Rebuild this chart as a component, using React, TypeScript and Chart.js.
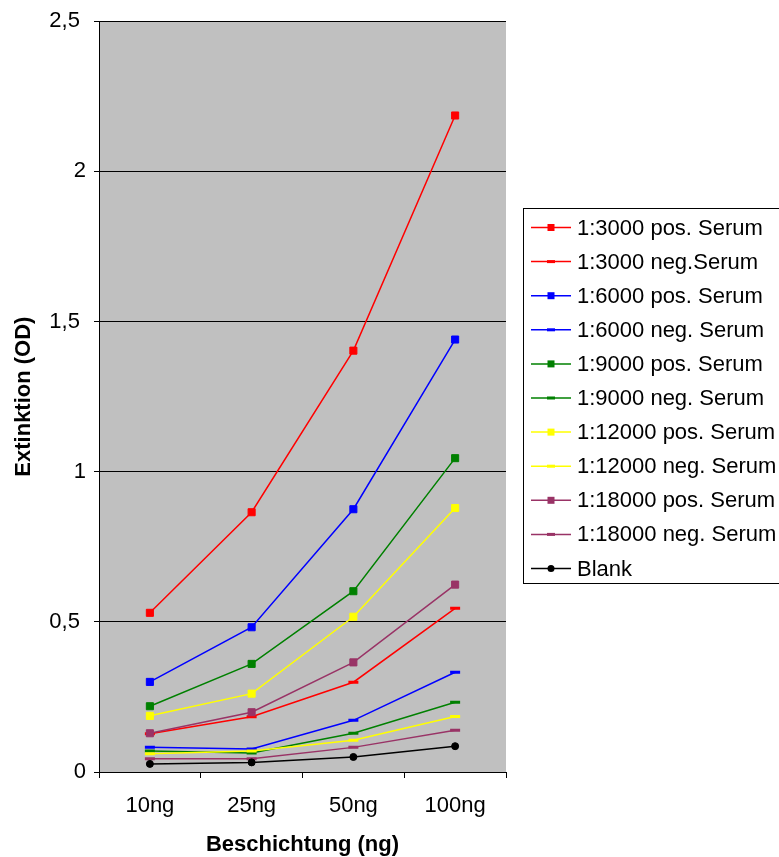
import { useEffect, useRef } from 'react';
import { Chart, registerables } from 'chart.js';

Chart.register(...registerables);

// Coating amounts on the x axis
const categories = ['10ng', '25ng', '50ng', '100ng'];
// Optical density ticks
const yTicks = [0, 0.5, 1, 1.5, 2, 2.5];

// Extinction per serum dilution
const pos3000 = [0.53, 0.865, 1.403, 2.186];
const neg3000 = [0.127, 0.184, 0.299, 0.545];
const pos6000 = [0.3, 0.482, 0.875, 1.44];
const neg6000 = [0.082, 0.077, 0.172, 0.332];
const pos9000 = [0.219, 0.36, 0.602, 1.045];
const neg9000 = [0.07, 0.063, 0.129, 0.232];
const pos12000 = [0.187, 0.261, 0.517, 0.879];
const neg12000 = [0.061, 0.07, 0.106, 0.185];
const pos18000 = [0.129, 0.199, 0.365, 0.624];
const neg18000 = [0.044, 0.044, 0.082, 0.139];
const blank = [0.027, 0.032, 0.05, 0.086];

const seriesLabels = [
  '1:3000 pos. Serum',
  '1:3000 neg.Serum',
  '1:6000 pos. Serum',
  '1:6000 neg. Serum',
  '1:9000 pos. Serum',
  '1:9000 neg. Serum',
  '1:12000 pos. Serum',
  '1:12000 neg. Serum',
  '1:18000 pos. Serum',
  '1:18000 neg. Serum',
  'Blank',
];
const seriesValues = [
  pos3000, neg3000, pos6000, neg6000, pos9000, neg9000,
  pos12000, neg12000, pos18000, neg18000, blank,
];
const seriesColors = [
  '#FF0000', '#FF0000', '#0000FF', '#0000FF', '#008000', '#008000',
  '#FFFF00', '#FFFF00', '#993366', '#993366', '#000000',
];
const seriesMarkers = [
  'rect', 'line', 'rect', 'line', 'rect', 'line',
  'rect', 'line', 'rect', 'line', 'circle',
];

const FONT = '"Liberation Sans", Arial, sans-serif';

// Gray plot area behind the series
const plotBackground = {
  id: 'plotBackground',
  beforeDraw(chart: any) {
    const { ctx, chartArea } = chart;
    ctx.save();
    ctx.fillStyle = '#C0C0C0';
    ctx.fillRect(chartArea.left, chartArea.top, chartArea.right - chartArea.left, chartArea.bottom - chartArea.top);
    ctx.restore();
  },
};

function drawMarker(ctx: CanvasRenderingContext2D, style: string, x: number, y: number, color: string) {
  ctx.fillStyle = color;
  ctx.strokeStyle = color;
  if (style === 'rect') {
    ctx.fillRect(x - 3.5, y - 3.5, 7, 7);
  } else if (style === 'line') {
    ctx.fillRect(x - 4, y - 1.5, 8, 3);
  } else {
    ctx.beginPath();
    ctx.arc(x, y, 3.5, 0, Math.PI * 2);
    ctx.fill();
  }
}

// Boxed legend on the right with line + marker samples
const boxLegend = {
  id: 'boxLegend',
  afterDraw(chart: any) {
    const { ctx } = chart;
    const datasets = chart.data.datasets;
    const boxLeft = 523.5;
    const boxTop = 208.5;
    const rowGap = 34.1;
    const firstRow = 227.5;
    const boxBottom = firstRow + rowGap * (datasets.length - 1) + 14;
    ctx.save();
    ctx.strokeStyle = '#000000';
    ctx.lineWidth = 1;
    ctx.strokeRect(boxLeft, boxTop, chart.width + 10 - boxLeft, Math.round(boxBottom) + 0.5 - boxTop);
    ctx.font = `22px ${FONT}`;
    ctx.textBaseline = 'middle';
    ctx.textAlign = 'left';
    datasets.forEach((ds: any, i: number) => {
      const y = firstRow + i * rowGap;
      ctx.strokeStyle = ds.borderColor;
      ctx.lineWidth = 1.5;
      ctx.beginPath();
      ctx.moveTo(531, y);
      ctx.lineTo(571, y);
      ctx.stroke();
      drawMarker(ctx, ds.pointStyle, 551, y, ds.borderColor);
      ctx.fillStyle = '#000000';
      ctx.fillText(ds.label, 577, y + 1);
    });
    ctx.restore();
  },
};

export default function App() {
  const canvasRef = useRef<HTMLCanvasElement | null>(null);

  useEffect(() => {
    const canvas = canvasRef.current;
    if (!canvas) return;
    const n = seriesLabels.length;
    const chart = new Chart(canvas, {
      type: 'line',
      data: {
        labels: categories,
        datasets: seriesLabels.map((label, i) => {
          const marker = seriesMarkers[i];
          return {
            label,
            data: seriesValues[i],
            borderColor: seriesColors[i],
            backgroundColor: seriesColors[i],
            borderWidth: 1.5,
            pointStyle: marker,
            pointRadius: marker === 'circle' ? 3.5 : 5,
            pointBorderWidth: marker === 'line' ? 3 : 1,
            pointBorderColor: seriesColors[i],
            pointBackgroundColor: seriesColors[i],
            tension: 0,
            fill: false,
            order: n - i,
          };
        }),
      },
      options: {
        responsive: false,
        animation: false,
        events: [],
        layout: { padding: { top: 17, right: 273, left: 0, bottom: 0 } },
        plugins: {
          legend: { display: false },
          tooltip: { enabled: false },
          title: { display: false },
        },
        scales: {
          x: {
            type: 'category',
            offset: true,
            afterFit(scale: any) {
              scale.height = 85;
            },
            grid: {
              offset: true,
              drawOnChartArea: false,
              drawTicks: true,
              tickLength: 6,
              color: '#000000',
            },
            border: { display: true, color: '#000000', width: 1 },
            ticks: {
              color: '#000000',
              font: { family: FONT, size: 22 },
              padding: 15,
              maxRotation: 0,
            },
            title: {
              display: true,
              text: 'Beschichtung (ng)',
              color: '#000000',
              font: { family: FONT, size: 22, weight: 'bold' },
              padding: { top: 0, bottom: -1.5 },
            },
          },
          y: {
            type: 'linear',
            min: 0,
            max: 2.5,
            afterFit(scale: any) {
              scale.width = 99;
            },
            afterBuildTicks(scale: any) {
              scale.ticks = yTicks.map((v) => ({ value: v }));
            },
            grid: {
              color: '#000000',
              drawTicks: true,
              tickLength: 5,
              lineWidth: 1,
            },
            border: { display: true, color: '#000000', width: 1 },
            ticks: {
              color: '#000000',
              font: { family: FONT, size: 22 },
              padding: 8,
              callback(value: any) {
                const s = String(value).replace('.', ',');
                return Number.isInteger(value) ? s : s + '\u00A0';
              },
            },
            title: {
              display: true,
              text: 'Extinktion (OD)',
              color: '#000000',
              font: { family: FONT, size: 22, weight: 'bold' },
              padding: { top: 11, bottom: 0 },
            },
          },
        },
      } as any,
      plugins: [plotBackground, boxLegend],
    });
    return () => chart.destroy();
  }, []);

  return (
    <div style={{ position: 'absolute', left: 0, top: 0, width: 779, height: 857, background: '#ffffff' }}>
      <canvas ref={canvasRef} width={779} height={857} style={{ display: 'block' }} />
    </div>
  );
}
